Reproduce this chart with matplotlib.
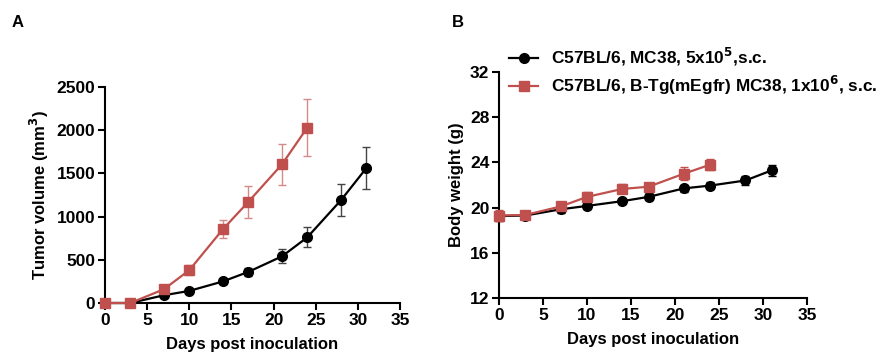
import matplotlib
matplotlib.use('Agg')
import matplotlib.pyplot as plt
from matplotlib.lines import Line2D

plt.rcParams['font.family'] = ['Liberation Sans', 'DejaVu Sans']
plt.rcParams['font.weight'] = 'bold'

# tumor volume (mm^3)
days_wt = [0, 3, 7, 10, 14, 17, 21, 24, 28, 31]
vol_wt = [0, 0, 90, 140, 250, 360, 540, 760, 1190, 1560]
vol_wt_err = [0, 0, 20, 25, 30, 45, 80, 115, 185, 240]

days_tg = [0, 3, 7, 10, 14, 17, 21, 24]
vol_tg = [0, 0, 160, 380, 855, 1170, 1605, 2030]
vol_tg_err = [0, 0, 20, 60, 108, 185, 235, 330]

# body weight (g)
bw_wt = [19.25, 19.3, 19.85, 20.15, 20.57, 20.95, 21.7, 21.95, 22.4, 23.3]
bw_wt_err = [0.4, 0.15, 0.3, 0.25, 0.15, 0.3, 0.3, 0.3, 0.4, 0.5]
bw_tg = [19.3, 19.35, 20.1, 20.95, 21.65, 21.85, 23.0, 23.8]
bw_tg_err = [0.5, 0.2, 0.3, 0.4, 0.4, 0.3, 0.6, 0.5]

label_wt = 'C57BL/6, MC38, 5x10$^{\\mathbf{5}}$,s.c.'
label_tg = 'C57BL/6, B-Tg(mEgfr) MC38, 1x10$^{\\mathbf{6}}$, s.c.'

RED = '#c0504d'
BLACK = '#000000'

fig = plt.figure(figsize=(8.81, 3.58), dpi=100)
axA = fig.add_axes([0.1192, 0.1536, 0.3348, 0.6034])
axB = fig.add_axes([0.5664, 0.1676, 0.3496, 0.6312])


def style_axes(ax):
    for side in ('top', 'right'):
        ax.spines[side].set_visible(False)
    for side in ('left', 'bottom'):
        ax.spines[side].set_linewidth(1.5)
    ax.tick_params(width=1.5, length=5, labelsize=12.5, pad=2)
    for lbl in ax.get_xticklabels() + ax.get_yticklabels():
        lbl.set_fontweight('bold')
    ax.set_xlim(0, 35)
    ax.set_xticks(range(0, 36, 5))
    ax.set_xlabel('Days post inoculation', fontsize=12, fontweight='bold', labelpad=7)


# panel A
axA.errorbar(days_wt, vol_wt, yerr=vol_wt_err, color=BLACK, marker='o', ms=7,
             lw=1.6, capsize=3, elinewidth=1, ecolor='#444444', clip_on=False,
             zorder=3)
axA.errorbar(days_tg, vol_tg, yerr=vol_tg_err, color=RED, marker='s', ms=7,
             lw=1.6, capsize=3, elinewidth=1, ecolor='#d48a88', clip_on=False,
             zorder=4)
axA.set_ylim(0, 2500)
axA.set_yticks(range(0, 2501, 500))
axA.set_ylabel('Tumor volume (mm$^{\\mathbf{3}}$)', fontsize=12, fontweight='bold', labelpad=4)
style_axes(axA)

# panel B
axB.errorbar(days_wt, bw_wt, yerr=bw_wt_err, color=BLACK, marker='o', ms=7,
             lw=1.6, capsize=3, elinewidth=1, clip_on=False, zorder=3)
axB.errorbar(days_tg, bw_tg, yerr=bw_tg_err, color=RED, marker='s', ms=7,
             lw=1.6, capsize=3, elinewidth=1, clip_on=False, zorder=4)
axB.set_ylim(12, 32)
axB.set_yticks(range(12, 33, 4))
axB.set_ylabel('Body weight (g)', fontsize=12, fontweight='bold', labelpad=4)
style_axes(axB)

handles = [Line2D([], [], color=BLACK, marker='o', ms=7, lw=1.6),
           Line2D([], [], color=RED, marker='s', ms=7, lw=1.6)]
leg = axB.legend(handles, [label_wt, label_tg], loc='lower left',
                 bbox_to_anchor=(0.578, 0.73), bbox_transform=fig.transFigure,
                 frameon=False, fontsize=12.4, handlelength=1.7, handletextpad=0.7,
                 labelspacing=0.3, borderpad=0, borderaxespad=0)
for t in leg.get_texts():
    t.set_fontweight('bold')

fig.text(0.013, 0.925, 'A', fontsize=12, fontweight='bold')
fig.text(0.513, 0.925, 'B', fontsize=12, fontweight='bold')

fig.savefig('out.png', dpi=100)
